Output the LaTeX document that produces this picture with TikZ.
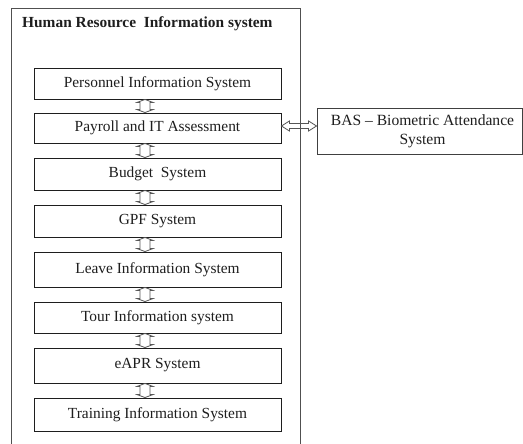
\documentclass[tikz,border=0pt]{standalone}
\usepackage{fontspec}
\setmainfont{Liberation Serif}
\usetikzlibrary{calc}
\definecolor{ink}{HTML}{1E1E1E}
\definecolor{framec}{HTML}{505050}
\tikzset{
  sysbox/.style={draw=ink, line width=0.9pt, minimum width=247pt, inner sep=0pt,
    text=ink, font=\fontsize{15.4}{18}\selectfont},
  hollow/.style={draw=ink!75, line width=0.8pt, line join=miter},
}
\newcommand\vlink[2]{%
  \draw[hollow] let \p1=($(#1.south)+(-12.5pt,0pt)$), \p2=($(#2.north)+(-12.5pt,0pt)$) in
  (\x1,\y1) -- (\x1+8pt,\y1-3pt) -- (\x1+5pt,\y1-3pt) -- (\x1+5pt,\y2+3pt) -- (\x1+8pt,\y2+3pt)
  -- (\x1,\y2) -- (\x1-8pt,\y2+3pt) -- (\x1-5pt,\y2+3pt) -- (\x1-5pt,\y1-3pt) -- (\x1-8pt,\y1-3pt) -- cycle;}
\begin{document}
\begin{tikzpicture}[x=1pt,y=-1pt]
\useasboundingbox (0,0) rectangle (523,444);
\fill[white] (0,0) rectangle (523,444);
% outer frame
\draw[framec, line width=0.9pt] (11,444) -- (11,8) -- (300.5,8) -- (300.5,444);
\node[anchor=base west, text=ink, font=\bfseries\fontsize{15.4}{18}\selectfont, inner sep=0pt] (title) at (22,27.7) {Human Resource\ \ Information system};
% system boxes
\node[sysbox, minimum height=31pt] (pers) at (157.5,83.5) {Personnel Information System};
\node[sysbox, minimum height=30pt] (pay) at (157.5,128) {Payroll and IT Assessment};
\node[sysbox, minimum height=32pt] (bud) at (157.5,174) {Budget\ \ System};
\node[sysbox, minimum height=32pt] (gpf) at (157.5,221) {GPF System};
\node[sysbox, minimum height=35pt] (leave) at (157.5,269.5) {Leave Information System};
\node[sysbox, minimum height=31pt] (tour) at (157.5,317.5) {Tour Information system};
\node[sysbox, minimum height=35pt] (eapr) at (157.5,365.5) {eAPR System};
\node[sysbox, minimum height=33pt] (train) at (157.5,414.5) {Training Information System};
% BAS box
\node[draw=ink!85, line width=0.9pt, minimum width=205pt, minimum height=46pt, inner sep=0pt,
  text=ink, align=center, font=\fontsize{15.6}{19}\selectfont] (bas) at (419.5,131) {\hspace*{6pt}BAS -- Biometric Attendance\\ \hspace*{6pt}System};
% vertical links
\vlink{pers}{pay}
\vlink{pay}{bud}
\vlink{bud}{gpf}
\vlink{gpf}{leave}
\vlink{leave}{tour}
\vlink{tour}{eapr}
\vlink{eapr}{train}
% horizontal link
\draw[hollow] let \p1=($(pay.east)+(0pt,2pt)$), \p2=(bas.west |- \p1) in
  (\x1,\y1) -- (\x1+8pt,\y1+5pt) -- (\x1+8pt,\y1+2.5pt) -- (\x2-8pt,\y1+2.5pt) -- (\x2-8pt,\y1+5pt)
  -- (\x2,\y1) -- (\x2-8pt,\y1-5pt) -- (\x2-8pt,\y1-2.5pt) -- (\x1+8pt,\y1-2.5pt) -- (\x1+8pt,\y1-5pt) -- cycle;
\end{tikzpicture}
\end{document}
